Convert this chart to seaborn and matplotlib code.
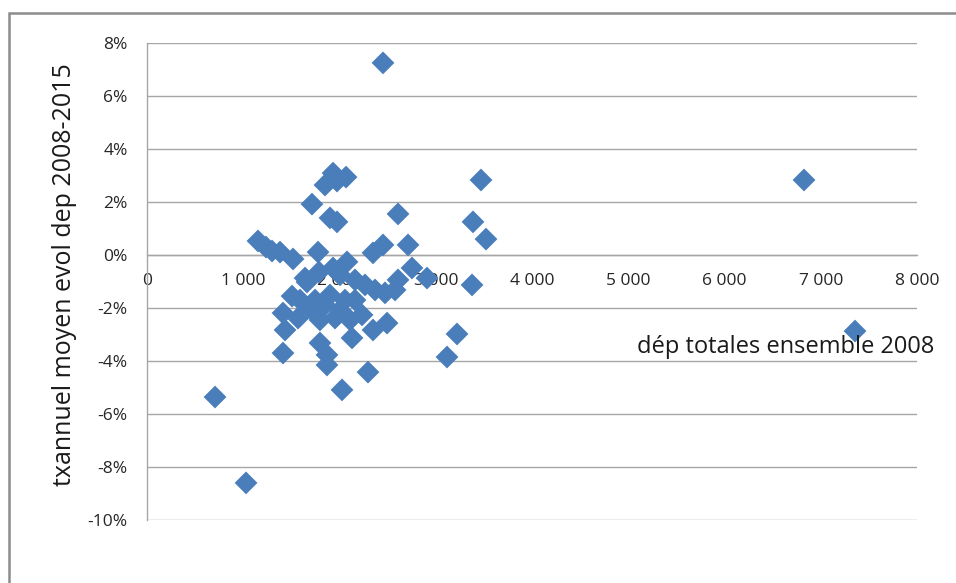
import matplotlib
matplotlib.use("Agg")
import matplotlib.pyplot as plt
from matplotlib.patches import Rectangle
from matplotlib.ticker import FuncFormatter
import seaborn as sns
import pandas as pd

# Total spending 2008 (x) vs mean annual growth of spending 2008-2015 (y, %)
dep_totales_2008 = [
    2452, 1933, 2068, 1974, 1849, 1714, 1901, 1974, 2608, 3470,
    6826, 3387, 3522, 1153, 1236, 1299, 1382, 1517, 1777, 2348,
    2452, 2712, 2753, 2909, 2608, 3377, 2078, 1933, 1787, 1642,
    2005, 2161, 2265, 2369, 2473, 2577, 1662, 1507, 1590, 1746,
    1901, 2057, 2161, 1849, 2005, 1694, 1413, 1569, 1797, 1953,
    2109, 2234, 2348, 2494, 1434, 1797, 1870, 1870, 1413, 2026,
    2296, 2130, 3221, 3117, 707, 1029, 7356,
]
tx_annuel_moyen = [
    7.25, 3.09, 2.94, 2.79, 2.64, 1.92, 1.40, 1.25, 1.55, 2.83,
    2.83, 1.25, 0.60, 0.53, 0.30, 0.15, 0.11, -0.15, 0.11, 0.08,
    0.38, 0.38, -0.49, -0.87, -0.94, -1.13, -0.26, -0.49, -0.64, -0.87,
    -0.75, -0.94, -1.13, -1.32, -1.43, -1.32, -1.02, -1.55, -1.70, -1.70,
    -1.51, -1.70, -1.70, -1.89, -2.08, -2.00, -2.19, -2.38, -2.45, -2.38,
    -2.45, -2.26, -2.83, -2.57, -2.83, -3.32, -3.77, -4.15, -3.70, -5.09,
    -4.42, -3.13, -2.98, -3.85, -5.36, -8.60, -2.87,
]

x_ticks = [0, 1000, 2000, 3000, 4000, 5000, 6000, 7000, 8000]
y_ticks = [-10, -8, -6, -4, -2, 0, 2, 4, 6, 8]

df = pd.DataFrame({"dep": dep_totales_2008, "tx": tx_annuel_moyen})

sns.set_theme(style="white")
plt.rcParams["font.family"] = ["Open Sans", "DejaVu Sans"]

fig = plt.figure(figsize=(9.56, 5.83), dpi=100)
ax = fig.add_axes([147 / 956, 1 - 520 / 583, 770 / 956, 477 / 583])

grid_col = "#a6a6a6"
for yv in y_ticks:
    ax.axhline(yv, color=grid_col, lw=1.0, zorder=0)

sns.scatterplot(data=df, x="dep", y="tx", marker="D", s=135,
                color="#4a7ebb", edgecolor="none", linewidth=0,
                ax=ax, zorder=3, legend=False)

ax.set_xlim(0, 8000)
ax.set_ylim(-10, 8)
ax.set_xticks(x_ticks)
ax.set_yticks(y_ticks)
ax.xaxis.set_major_formatter(FuncFormatter(lambda v, p: f"{int(v):,}".replace(",", " ")))
ax.yaxis.set_major_formatter(FuncFormatter(lambda v, p: f"{int(round(v))}%"))

for side in ["top", "right"]:
    ax.spines[side].set_visible(False)
ax.spines["left"].set_color(grid_col)
ax.spines["left"].set_linewidth(1.0)
ax.spines["bottom"].set_position(("data", 0))
ax.spines["bottom"].set_color(grid_col)
ax.spines["bottom"].set_linewidth(1.0)

ax.tick_params(axis="both", which="major", direction="out", length=5,
               width=1.0, color=grid_col, labelsize=12.5, labelcolor="#262626")
ax.tick_params(axis="x", pad=8)
ax.tick_params(axis="y", pad=9)

ax.set_xlabel("")
ax.set_ylabel("txannuel moyen evol dep 2008-2015", fontsize=18,
              color="#1a1a1a")
ax.yaxis.label.set_va("center")
ax.yaxis.set_label_coords(-0.1065, 0.514)
ax.text(5091, -3.47, "dép totales ensemble 2008", fontsize=17,
        color="#1a1a1a", ha="left", va="center")

# outer chart frame
fig.add_artist(Rectangle((9 / 956, -0.2), 1.2, 1 - 13 / 583 + 0.2,
                         transform=fig.transFigure, fill=False,
                         edgecolor="#8c8c8c", lw=1.8))

fig.savefig("out.png", dpi=100)
